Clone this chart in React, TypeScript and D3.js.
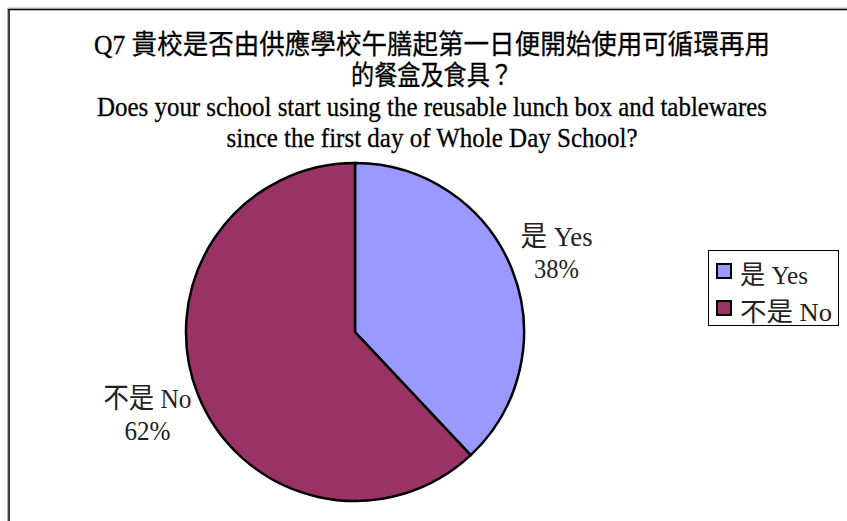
import React from "react";
import * as d3 from "d3";

const categories = ["是 Yes", "不是 No"];
const legendLabels = ["是 Yes", "不是  No"];
const values = [38, 62];
const colors = ["#9999FF", "#993366"];
const titleLines = [
  "Q7 貴校是否由供應學校午膳起第一日便開始使用可循環再用",
  "的餐盒及食具？",
  "Does your school start using the reusable lunch box and tablewares",
  "since the first day of Whole Day School?",
];
const titleWidths = [676, 162, 670, 411];
const labelWidths = [[72, 45], [88, 46]];

const W = 847;
const H = 521;
const FONT = "'Liberation Serif', 'Times New Roman', 'Noto Sans CJK TC', serif";

export default function App() {
  const cx = 355;
  const cy = 332;
  const r = 169;
  const total = d3.sum(values);
  const pie = d3.pie<number>().sort(null).value((d) => d).startAngle(0).endAngle(2 * Math.PI);
  const arcs = pie(values);
  const arc = d3.arc<d3.PieArcDatum<number>>().innerRadius(0).outerRadius(r);
  const labelArc = d3.arc<d3.PieArcDatum<number>>().innerRadius(220).outerRadius(220);

  return (
    <svg width={W} height={H} style={{ position: "absolute", left: 0, top: 0, background: "#fff" }} fontFamily={FONT}>
      <rect x={0} y={0} width={W} height={H} fill="#fff" />
      {/* frame */}
      <line x1={7.5} y1={8} x2={W} y2={8} stroke="#b0b0b0" strokeWidth={1} />
      <line x1={7.5} y1={8} x2={7.5} y2={H} stroke="#b0b0b0" strokeWidth={1} />
      <line x1={8.5} y1={9.5} x2={W} y2={9.5} stroke="#000" strokeWidth={1.5} />
      <line x1={9} y1={9} x2={9} y2={H} stroke="#000" strokeWidth={1.5} />

      {/* title */}
      {titleLines.map((t, i) => (
        <text
          key={i}
          x={432}
          y={54 + i * 31}
          textAnchor="middle"
          fontSize={27}
          fill="#000"
          stroke="#000"
          strokeWidth={0.3}
          textLength={titleWidths[i]}
          lengthAdjust="spacingAndGlyphs"
        >
          {t}
        </text>
      ))}

      {/* pie */}
      <g transform={`translate(${cx},${cy})`}>
        {arcs.map((a, i) => (
          <path key={i} d={arc(a) || ""} fill={colors[i]} stroke="#000" strokeWidth={2.5} strokeLinejoin="miter" />
        ))}
        {arcs.map((a, i) => {
          const [lx, ly] = labelArc.centroid(a);
          const pct = Math.round((values[i] / total) * 100) + "%";
          return (
            <g key={"l" + i} fontSize={28} fill="#222" textAnchor="middle">
              <text x={lx - 3} y={ly - 5} textLength={labelWidths[i][0]} lengthAdjust="spacingAndGlyphs">
                {categories[i]}
              </text>
              <text x={lx - 3} y={ly + 27} textLength={labelWidths[i][1]} lengthAdjust="spacingAndGlyphs">
                {pct}
              </text>
            </g>
          );
        })}
      </g>

      {/* legend */}
      <rect x={708.5} y={250.5} width={130} height={75} fill="#fff" stroke="#000" strokeWidth={1} />
      {legendLabels.map((l, i) => (
        <g key={i}>
          <rect x={717} y={264 + i * 37} width={14} height={14} fill={colors[i]} stroke="#000" strokeWidth={2} />
          <text
            x={740}
            y={284 + i * 37}
            fontSize={26}
            fill="#222"
            textLength={i === 0 ? 68 : 92}
            lengthAdjust="spacingAndGlyphs"
          >
            {l}
          </text>
        </g>
      ))}
    </svg>
  );
}
